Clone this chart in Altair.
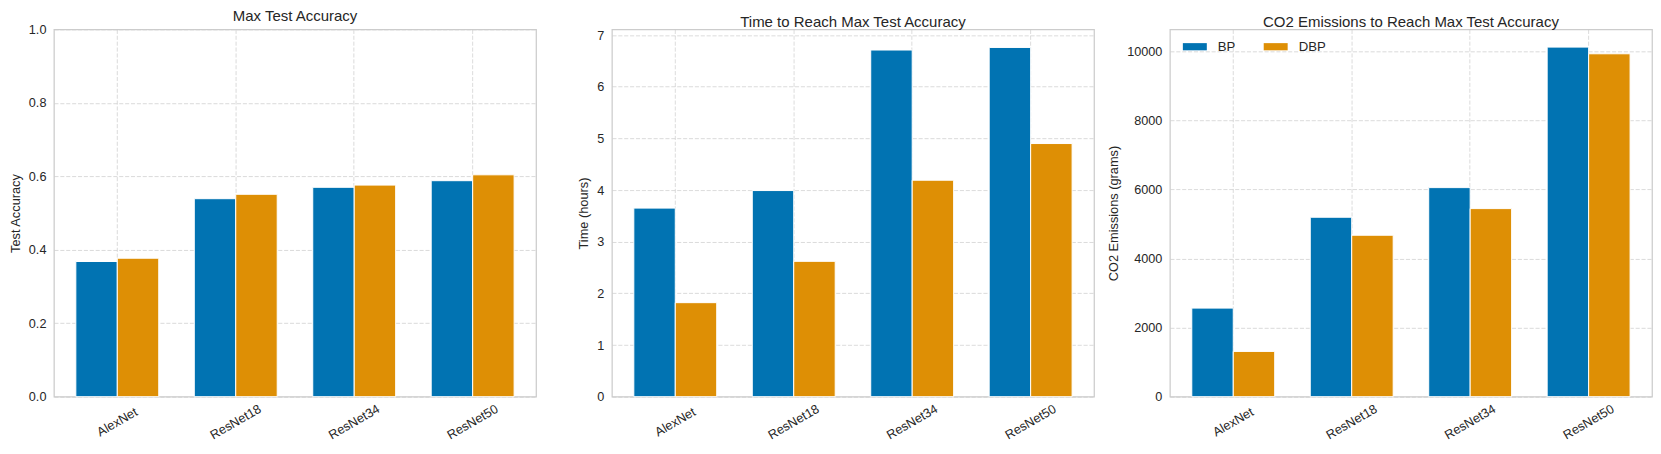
import altair as alt
import pandas as pd

models = ["AlexNet", "ResNet18", "ResNet34", "ResNet50"]
methods = ["BP", "DBP"]
colors = ["#0173B2", "#DE8F05"]

acc_bp = [0.368, 0.539, 0.570, 0.588]
acc_dbp = [0.377, 0.551, 0.576, 0.604]
time_bp = [3.65, 3.99, 6.71, 6.76]
time_dbp = [1.82, 2.62, 4.19, 4.90]
co2_bp = [2563, 5193, 6050, 10116]
co2_dbp = [1310, 4672, 5443, 9923]

acc_ticks = [0.0, 0.2, 0.4, 0.6, 0.8, 1.0]
time_ticks = [0, 1, 2, 3, 4, 5, 6, 7]
co2_ticks = [0, 2000, 4000, 6000, 8000, 10000]

FONT = "Liberation Sans"
TXT = "#262626"


def long_df(bp, dbp):
    rows = []
    for m, a, b in zip(models, bp, dbp):
        rows.append({"model": m, "method": "BP", "value": a})
        rows.append({"model": m, "method": "DBP", "value": b})
    return pd.DataFrame(rows)


def panel(bp, dbp, title, ytitle, domain_top, ticks, fmt, legend):
    df = long_df(bp, dbp)
    return alt.Chart(df).mark_bar(stroke="white", strokeWidth=1).encode(
        x=alt.X(
            "model:N", sort=models, title=None,
            scale=alt.Scale(paddingInner=0.3, paddingOuter=0.185),
            axis=alt.Axis(labelAngle=330, labelAlign="center", labelBaseline="middle",
                          labelPadding=25, bandPosition=0.5, grid=True),
        ),
        xOffset=alt.XOffset("method:N", sort=methods,
                            scale=alt.Scale(paddingInner=0, paddingOuter=0)),
        y=alt.Y(
            "value:Q", title=ytitle,
            scale=alt.Scale(domain=[0, domain_top], nice=False, zero=True),
            axis=alt.Axis(values=ticks, format=fmt, labelPadding=8, titlePadding=6, grid=True),
        ),
        color=alt.Color("method:N", sort=methods,
                        scale=alt.Scale(domain=methods, range=colors), legend=legend),
    ).properties(
        width=483, height=368,
        title=alt.TitleParams(title, frame="group"),
    )


legend3 = alt.Legend(
    title=None, orient="none", legendX=13, legendY=5, direction="horizontal",
    symbolType="M-1,-0.3L1,-0.3L1,0.3L-1,0.3Z", symbolSize=576,
    symbolStrokeWidth=0, symbolOpacity=1, labelFontSize=13.2, labelFont=FONT,
    labelColor=TXT, labelOffset=11, columnPadding=28, padding=0,
)

p1 = panel(acc_bp, acc_dbp, "Max Test Accuracy", "Test Accuracy", 1.0, acc_ticks, ".1f", None)
p2 = panel(time_bp, time_dbp, "Time to Reach Max Test Accuracy", "Time (hours)",
           7.11, time_ticks, "d", None)
p3 = panel(co2_bp, co2_dbp, "CO2 Emissions to Reach Max Test Accuracy",
           "CO2 Emissions (grams)", 10630, co2_ticks, "d", legend3)

chart = alt.hconcat(p1, p2, p3, spacing=76, bounds="flush").resolve_scale(
    x="independent", y="independent", xOffset="independent"
).resolve_legend(color="independent").properties(
    padding={"left": 0, "top": 0, "right": 0, "bottom": 0}
).configure_view(
    stroke="#cccccc", strokeWidth=1.25
).configure_axis(
    domain=False, ticks=False, labelFont=FONT, labelFontSize=12.7, labelColor=TXT,
    titleFont=FONT, titleFontSize=12.8, titleFontWeight="normal", titleColor=TXT,
    gridColor="#cccccc", gridOpacity=0.7, gridWidth=1, gridDash=[4.1, 1.8],
    labelLimit=300,
).configure_title(
    font=FONT, fontSize=15, fontWeight="normal", color=TXT, offset=-1
)

chart.save("out.html", embed_options={"renderer": "svg", "actions": False})
